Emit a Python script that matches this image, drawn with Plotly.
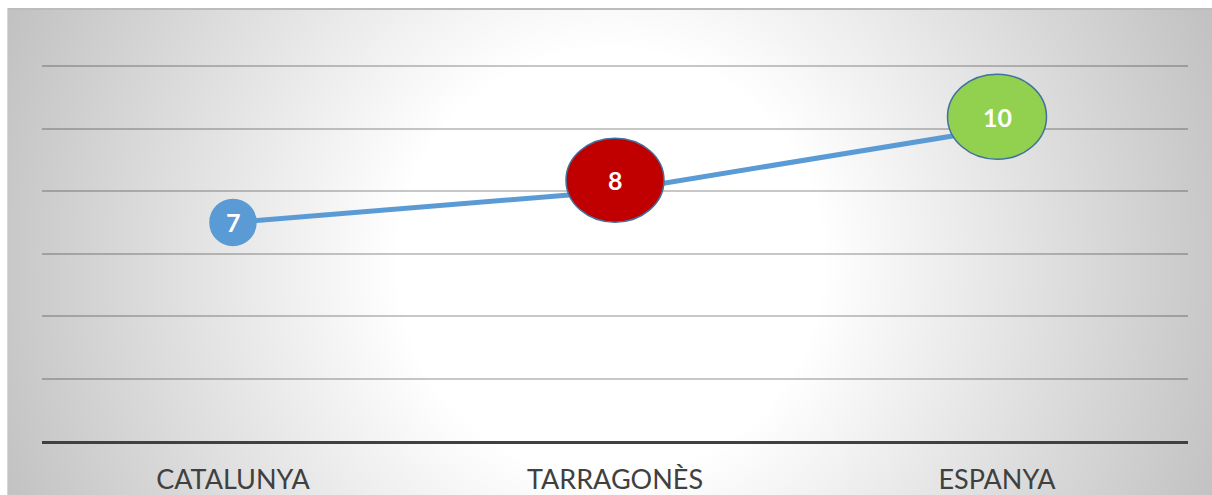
import base64
import plotly.graph_objects as go

# ---- data ----
categories = ["CATALUNYA", "TARRAGONÈS", "ESPANYA"]
values = [7, 8, 10]
value_labels = ["7", "8", "10"]
y_ticks = [0, 2, 4, 6, 8, 10, 12]

# ---- styles ----
line_color = "#5B9BD5"
fills = ["#5B9BD5", "#C00000", "#92D050"]
borders = ["#5B9BD5", "#41719C", "#41719C"]
w_px = [46, 98, 99]
h_px = [46, 84, 85]
lift_px = [0, 11, 12]

W, H = 1212, 495
ML, MR, MT, MB = 42, 24, 60, 54
PW, PH = W - ML - MR, H - MT - MB

# radial gradient background as svg image
bx, by = 7, 8
bw, bh = W - bx, H - by
svg = f'''<svg xmlns="http://www.w3.org/2000/svg" width="{bw}" height="{bh}" viewBox="0 0 {bw} {bh}" preserveAspectRatio="none">
<defs><radialGradient id="g" gradientUnits="userSpaceOnUse" cx="{610-bx}" cy="{262-by}" r="660">
<stop offset="0" stop-color="#ffffff"/><stop offset="0.32" stop-color="#ffffff"/><stop offset="1" stop-color="#c0c0c0"/></radialGradient></defs>
<rect x="0" y="0" width="{bw}" height="{bh}" fill="url(#g)"/>
<line x1="0" y1="1" x2="{bw}" y2="1" stroke="#bcbcbc" stroke-width="2"/>
<line x1="0.5" y1="0" x2="0.5" y2="{bh}" stroke="#d6d6d6" stroke-width="1"/>
</svg>'''
src = "data:image/svg+xml;base64," + base64.b64encode(svg.encode()).decode()

fig = go.Figure()
fig.add_trace(go.Scatter(
    x=categories, y=values, mode="lines",
    line=dict(color=line_color, width=5),
    hoverinfo="skip", showlegend=False, cliponaxis=False,
))

shapes = []
annotations = []
for i, (c, v, t) in enumerate(zip(categories, values, value_labels)):
    shapes.append(dict(
        type="circle", xref="x", yref="y",
        xsizemode="pixel", ysizemode="pixel",
        xanchor=c, yanchor=v,
        x0=-w_px[i] / 2, x1=w_px[i] / 2,
        y0=lift_px[i] - h_px[i] / 2, y1=lift_px[i] + h_px[i] / 2,
        fillcolor=fills[i], line=dict(color=borders[i], width=1.5),
        layer="above",
    ))
    annotations.append(dict(
        x=c, y=v, text=f"<b>{t}</b>", showarrow=False, yshift=lift_px[i],
        font=dict(family="Lato, Open Sans, sans-serif", size=25, color="white"),
    ))

fig.update_layout(
    width=W, height=H,
    margin=dict(l=ML, r=MR, t=MT, b=MB, autoexpand=False),
    paper_bgcolor="white", plot_bgcolor="rgba(0,0,0,0)",
    shapes=shapes, annotations=annotations,
    images=[dict(
        source=src, xref="paper", yref="paper",
        x=(bx - ML) / PW, y=(H - MB - by) / PH,
        sizex=bw / PW, sizey=bh / PH,
        xanchor="left", yanchor="top", sizing="stretch", layer="below",
    )],
    xaxis=dict(
        type="category", range=[-0.5, 2.5], showgrid=False, zeroline=False,
        showline=True, linecolor="#404040", linewidth=3,
        ticks="", ticklabelstandoff=13, automargin=False,
        tickfont=dict(family="Lato, Open Sans, sans-serif", size=27, color="#404040"),
    ),
    yaxis=dict(
        range=[0, 12.2], tickvals=y_ticks, showticklabels=False, automargin=False,
        showgrid=True, gridcolor="rgba(0,0,0,0.22)", gridwidth=1.5,
        zeroline=False, showline=False,
    ),
)

fig.write_html(
    "out.html",
    config={"displayModeBar": False},
    post_script="document.body.style.margin='0px';document.body.style.overflow='hidden';",
)
